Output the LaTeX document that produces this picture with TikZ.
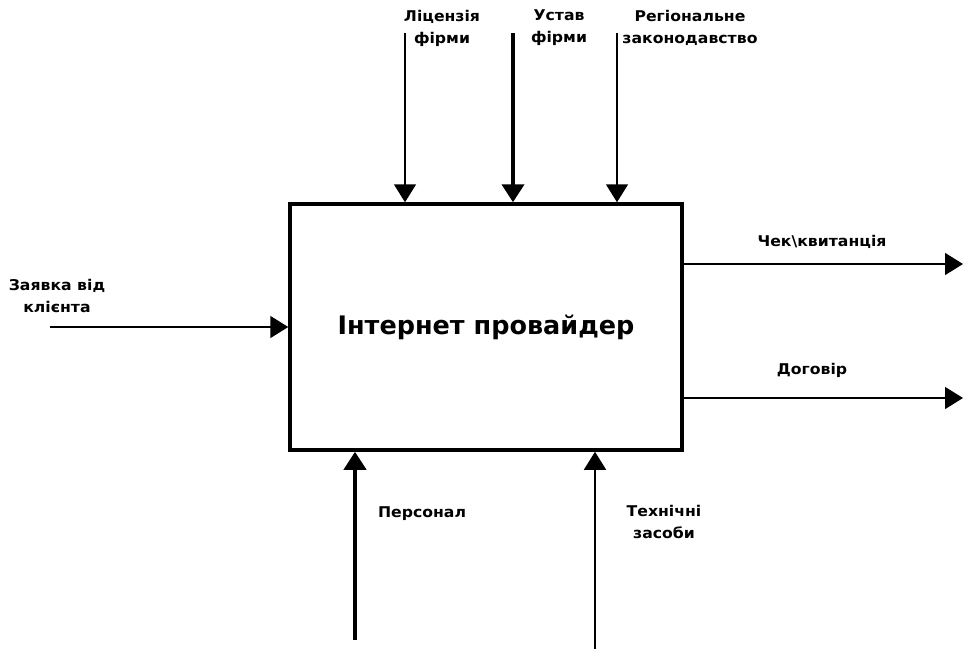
\documentclass[tikz,border=0pt]{standalone}
\usepackage{fontspec}
\setmainfont{DejaVu Sans}
\newfontfamily\labfont[FakeStretch=1.06]{DejaVu Sans}
\usetikzlibrary{arrows.meta}
\begin{document}
\begin{tikzpicture}[x=1pt,y=-1pt,
  lab/.style={font=\labfont\fontsize{14.8}{22}\selectfont\bfseries, align=center, inner sep=0pt},
  arrthin/.style={line width=1.5pt, -{Triangle[length=18pt,width=22pt]}},
  arrthick/.style={line width=4pt, -{Triangle[length=18pt,width=22pt]}}
]
\useasboundingbox (0,0) rectangle (963,649);
\fill[white] (0,0) rectangle (963,649);
\node[draw, line width=3.5pt, minimum width=392pt, minimum height=246pt, inner sep=0pt,
      font=\fontsize{25.5}{30}\selectfont\bfseries] (box) at (486,327) {Інтернет провайдер};

% controls (top)
\coordinate (t1) at (405,33);
\coordinate (t2) at (513,33);
\coordinate (t3) at (617,33);
\draw[arrthin] (t1) -- (t1 |- box.north);
\draw[arrthick] (t2) -- (t2 |- box.north);
\draw[arrthin] (t3) -- (t3 |- box.north);
\node[lab] (lt1) at (442,28) {Ліцензія\\фірми};
\node[lab] (lt2) at (559,28) {Устав\\фірми};
\node[lab] (lt3) at (690,28) {Регіональне\\законодавство};

% input (left)
\coordinate (in1) at (50,327);
\draw[arrthin] (in1) -- (in1 -| box.west);
\node[lab] (lin) at (57,296) {Заявка від\\клієнта};

% outputs (right)
\coordinate (o1) at (963,264);
\coordinate (o2) at (963,398);
\draw[arrthin] (box.east |- o1) -- (o1);
\draw[arrthin] (box.east |- o2) -- (o2);
\node[lab] (lo1) at (822,242) {Чек\textbackslash квитанція};
\node[lab] (lo2) at (812,370) {Договір};

% mechanisms (bottom)
\coordinate (b1) at (355,640);
\coordinate (b2) at (595,649);
\draw[arrthick] (b1) -- (b1 |- box.south);
\draw[arrthin] (b2) -- (b2 |- box.south);
\node[lab] (lb1) at (422,514) {Персонал};
\node[lab] (lb2) at (664,522) {Технічні\\засоби};
\end{tikzpicture}
\end{document}
